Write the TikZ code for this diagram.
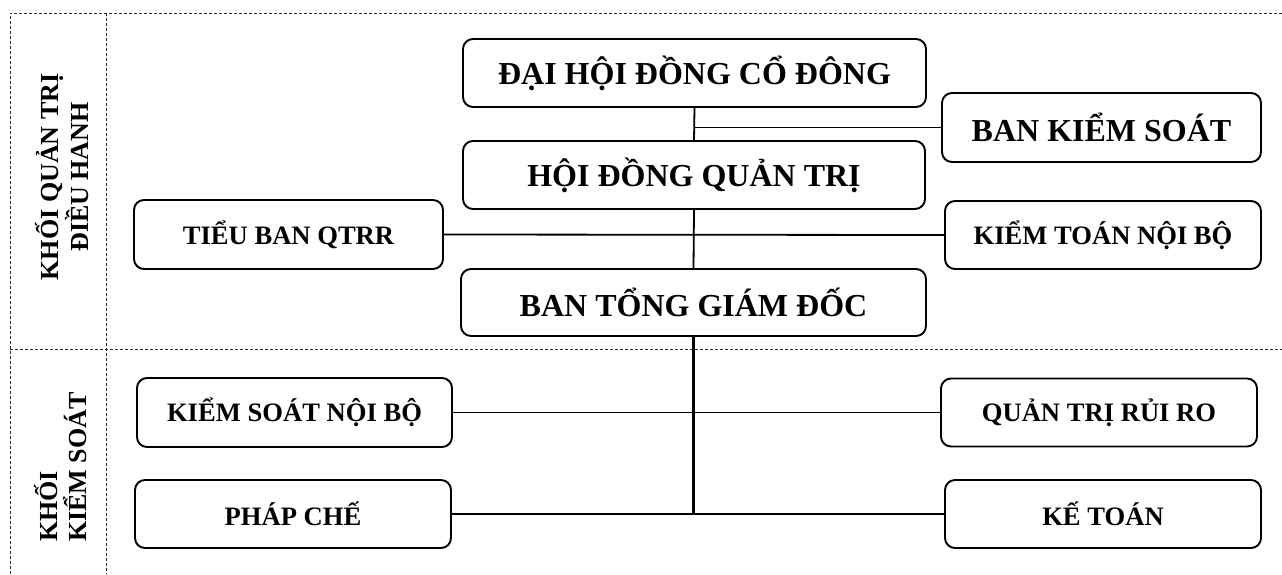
\documentclass[tikz,border=0pt]{standalone}
\usepackage{fontspec}
\setmainfont{Liberation Serif}
\begin{document}
\begin{tikzpicture}[x=1pt,y=-1pt,
  box/.style={draw, line width=1.9pt, rounded corners=10pt, inner sep=0pt, font=\fontsize{32}{38}\selectfont\bfseries},
  sbox/.style={draw, line width=1.9pt, rounded corners=10pt, inner sep=0pt, font=\fontsize{26.6}{32}\selectfont\bfseries},
  conn/.style={line width=1.8pt},
  frame/.style={line width=0.9pt, dash pattern=on 3pt off 2pt, draw=black!85},
  side/.style={rotate=90, font=\fontsize{26}{30}\selectfont\bfseries, inner sep=0pt}]
\useasboundingbox (0,0) rectangle (1282,574);
% dashed frame
\draw[frame] (10,574) -- (10,13) -- (1282,13);
\draw[frame] (106,13) -- (106,574);
\draw[frame] (10,349) -- (1282,349);
% side labels
\node[side, align=center, anchor=base] (lab1) at (88,177) {KHỐI QUẢN TRỊ\\ĐIỀU HANH};
\node[side, align=left, anchor=base west, font=\fontsize{26}{29}\selectfont\bfseries] (lab2) at (86,542) {KHỐI\\KIỂM SOÁT};
% boxes
\node[box, minimum width=463pt, minimum height=68pt] (dh) at (694.5,73) {ĐẠI HỘI ĐỒNG CỔ ĐÔNG};
\node[box, minimum width=319pt, minimum height=69pt] (bks) at (1101.5,127.5) {BAN KIỂM SOÁT};
\node[box, minimum width=462pt, minimum height=68pt] (hd) at (694,175) {HỘI ĐỒNG QUẢN TRỊ};
\node[sbox, minimum width=309pt, minimum height=69pt] (tb) at (288.5,234.5) {TIỂU BAN QTRR};
\node[sbox, minimum width=316pt, minimum height=68pt] (kt1) at (1103,235) {KIỂM TOÁN NỘI BỘ};
\node[box, minimum width=465pt, minimum height=67pt] (bt) at (693.5,302.5) {BAN TỔNG GIÁM ĐỐC};
\node[sbox, minimum width=315pt, minimum height=69pt] (ks) at (294.5,412.5) {KIỂM SOÁT NỘI BỘ};
\node[sbox, minimum width=316pt, minimum height=68pt] (qt) at (1099,412.5) {QUẢN TRỊ RỦI RO};
\node[sbox, minimum width=316pt, minimum height=68pt] (pc) at (293,514) {PHÁP CHẾ};
\node[sbox, minimum width=316pt, minimum height=68pt] (kt) at (1103,514) {KẾ TOÁN};
% connectors
\draw[conn] (dh.south) -- (hd.north);
\draw[conn] (dh.south |- bks.west) -- (bks.west);
\draw[conn] (hd.south) -- (bt.north);
\draw[conn] (tb.east) -- (kt1.west);
\coordinate (bend) at (bt.south |- pc.east);
\draw[line width=2.6pt] (bt.south) -- (bend);
\draw[conn] (ks.east) -- (ks.east -| qt.west);
\draw[conn] (pc.east) -- (kt.west);
\end{tikzpicture}
\end{document}
